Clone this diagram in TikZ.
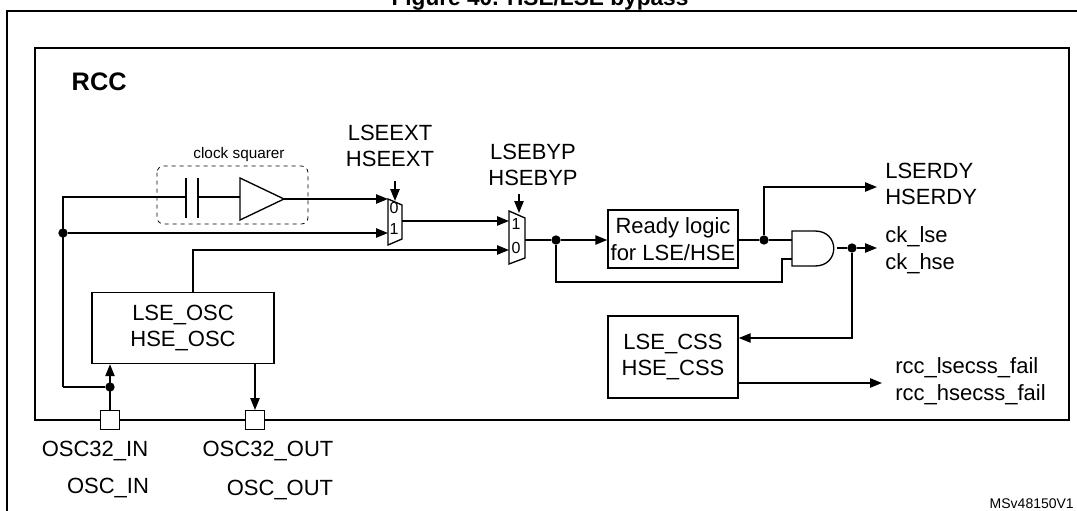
\documentclass[tikz,border=0pt]{standalone}
\usepackage{fontspec}
\setmainfont{Liberation Sans}
\usetikzlibrary{arrows.meta,positioning}
\tikzset{
  sig/.style={line width=1.1pt},
  arr/.style={sig,-{Triangle[length=9pt,width=7pt]}},
  blk/.style={draw,line width=1.1pt,align=center,inner sep=0pt,font=\fontsize{16.5}{20}\selectfont},
  lbl/.style={align=left,inner sep=0pt,font=\fontsize{16.5}{20}\selectfont},
  dot/.style={circle,fill,inner sep=0pt,minimum size=7pt},
  pin/.style={draw,fill=white,line width=1pt,minimum size=14pt,inner sep=0pt},
}
\begin{document}
\begin{tikzpicture}[x=0.75pt,y=-0.75pt]
\useasboundingbox (0,0) rectangle (1077,510);
% frames
\node[font=\bfseries\fontsize{17}{19}\selectfont,anchor=base] (title) at (540,6) {Figure 40. HSE/LSE bypass};
\draw[line width=1.2pt] (7,1200) -- (7,11) -- (1200,11);
\draw[line width=1.2pt] (35,48) rectangle (1069,420);
\node[font=\bfseries\fontsize{19}{21}\selectfont,anchor=west] (rcc) at (67,82) {RCC};

% blocks
\node[blk,minimum width=182pt*0.75,minimum height=71pt*0.75] (osc) at (183,328) {LSE\_OSC\\HSE\_OSC};
\node[blk,minimum width=130pt*0.75,minimum height=58pt*0.75] (rdy) at (673,239) {Ready logic\\for LSE/HSE};
\node[blk,minimum width=130pt*0.75,minimum height=82pt*0.75] (css) at (673,357) {LSE\_CSS\\HSE\_CSS};

% pins
\node[pin] (pin) at (110,420) {};
\node[pin] (pout) at (255,420) {};
\node[lbl] (tin) at (95,451) {OSC32\_IN};
\node[lbl] (tin2) at (108,488) {OSC\_IN};
\node[lbl] (tout) at (268,451) {OSC32\_OUT};
\node[lbl] (tout2) at (280,490) {OSC\_OUT};

% clock squarer
\draw[dashed,rounded corners=5pt,line width=0.6pt] (157,166) rectangle (308,224);
\node[font=\fontsize{11.5}{13}\selectfont] (csq) at (239,155) {clock squarer};
\draw[line width=2.2pt] (186,178) -- (186,218) (198,178) -- (198,218);
\draw[line width=1pt] (240,178) -- (284,199) -- (240,220) -- cycle;

% muxes
\draw[line width=1pt] (388,199) -- (402,205) -- (402,239) -- (388,245) -- cycle;
\node[font=\fontsize{12}{12}\selectfont] (m1a) at (394,208) {0};
\node[font=\fontsize{12}{12}\selectfont] (m1b) at (394,229) {1};
\draw[line width=1pt] (509,211) -- (525,218) -- (525,258) -- (509,264) -- cycle;
\node[font=\fontsize{12}{12}\selectfont] (m2a) at (516,224) {1};
\node[font=\fontsize{12}{12}\selectfont] (m2b) at (516,248) {0};
\node[lbl,align=center] (ext) at (390,146) {LSEEXT\\HSEEXT};
\node[lbl,align=center] (byp) at (533,165) {LSEBYP\\HSEBYP};
\draw[arr] (395,181) -- (395,201);
\draw[arr] (519,194) -- (519,213);

% AND gate
\draw[line width=1pt] (792,231) -- (815,231) .. controls (840,231) and (840,266) .. (815,266) -- (792,266) -- cycle;

% input wiring
\node[dot] (d1) at (63,233) {};
\node[dot] (d2) at (110,387) {};
\draw[sig] (63,387) -- (63,197) -- (186,197);
\draw[sig] (198,197) -- (240,197);
\draw[arr] (284,199) -- (388,199);
\draw[arr] (d1) -- (388,233);
\draw[sig] (63,387) -- (d2);
\draw[arr] (pin) -- (osc.south -| pin);
\draw[arr] (osc.south -| pout) -- (pout);
\draw[arr] (402,221) -- (509,221);
\draw[arr] (osc.north -| 193,0) -- (193,250) -- (509,250);

% output wiring
\node[dot] (d3) at (556,240) {};
\node[dot] (d4) at (764,240) {};
\node[dot] (d5) at (852,248) {};
\draw[sig] (525,240) -- (d3);
\draw[arr] (d3) -- (rdy.west |- d3);
\draw[sig] (d3) -- (556,282) -- (782,282) -- (782,259) -- (792,259);
\draw[sig] (rdy.east |- d4) -- (d4) -- (792,240);
\draw[arr] (d4) -- (764,187) -- (877,187);
\draw[sig] (837,248) -- (d5);
\draw[arr] (d5) -- (877,248);
\draw[arr] (d5) -- (852,338) -- (css.east |- 0,338);
\draw[arr] (css.east |- 0,383) -- (882,383);
\node[lbl,anchor=west] (rdyo) at (885,184) {LSERDY\\HSERDY};
\node[lbl,anchor=west] (cko) at (885,250) {ck\_lse\\ck\_hse};
\node[lbl,anchor=west] (fail) at (895,381) {rcc\_lsecss\_fail\\rcc\_hsecss\_fail};
\node[font=\fontsize{10.5}{12}\selectfont,anchor=west] (ref) at (985,504) {MSv48150V1};
\end{tikzpicture}
\end{document}
